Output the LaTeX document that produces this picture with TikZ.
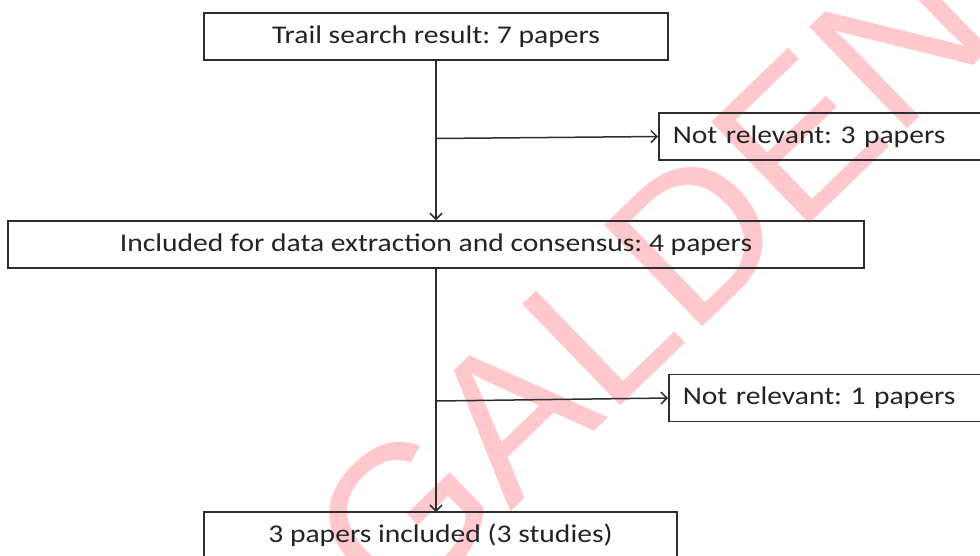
\documentclass[tikz,border=0pt]{standalone}
\usepackage{fontspec}
\setmainfont{Carlito}[FakeStretch=1.16]
\newfontfamily\wmfont{Liberation Sans}
\usetikzlibrary{arrows.meta}
\definecolor{flowdark}{RGB}{35,35,35}
\definecolor{flowline}{RGB}{45,45,45}
\definecolor{wmpink}{RGB}{255,200,204}
\frenchspacing

\begin{document}
\begin{tikzpicture}[x=1pt, y=-1pt]
    % Style definitions
    \tikzset{
      stage/.style={draw=flowline, line width=1.5pt, minimum height=47pt,
        inner sep=0pt, text=flowdark, font=\fontsize{25.5}{30}\selectfont},
      drop/.style={stage, anchor=west, inner xsep=14pt, text width=312pt,
        align=left},
      flow/.style={draw=flowline, line width=1.5pt,
        -{Straight Barb[length=6pt, width=12pt, line width=1.5pt]}},
      wmtext/.style={text=wmpink, font=\wmfont\fontsize{205}{205}\selectfont,
        rotate=44},
    }
    \useasboundingbox (0,0) rectangle (980,555);

    % Watermark behind the chart
    \node[wmtext] (wm) at (650,280) {GALDEN};

    % Main stages down the middle
    \node[stage, minimum width=464pt] (search) at (436,36.5)
      {Trail search result: 7 papers};
    \node[stage, minimum width=856pt] (extract) at (436,244.5)
      {Included for data extraction and consensus: 4 papers};
    \node[stage, minimum width=473pt] (final) at (440.5,535.5)
      {3 papers included (3 studies)};

    % Excluded papers on the right
    \node[drop] (drop1) at (658,136.5) {Not relevant: 3 papers};
    \node[drop] (drop2) at (668,398) {Not relevant: 1 papers};

    % Connectors
    \draw[flow] (search.south -| 436,0) -- (extract.north -| 436,0);
    \draw[flow] (extract.south -| 436,0) -- (436,512);
    \coordinate (split1) at (436,138.5);
    \coordinate (split2) at (436,401);
    \draw[flow] (split1) -- (drop1.west);
    \draw[flow] (split2) -- (drop2.west);
\end{tikzpicture}
\end{document}
